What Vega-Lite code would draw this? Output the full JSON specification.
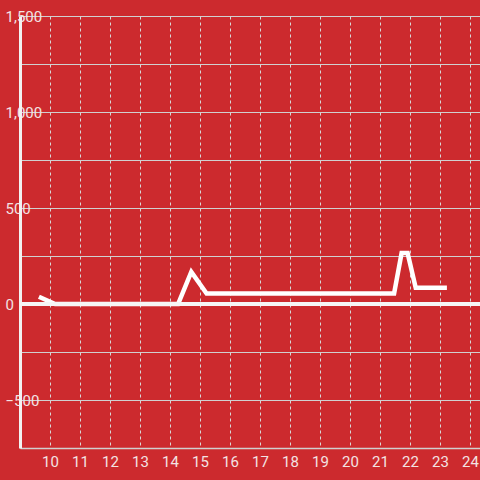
{
  "$schema": "https://vega.github.io/schema/vega-lite/v6.json",
  "width": 460,
  "height": 432,
  "autosize": {"type": "none"},
  "padding": {"left": 20, "top": 16, "right": 0, "bottom": 32},
  "background": "#cc2a2e",
  "config": {"view": {"stroke": null}, "font": "Roboto"},
  "layer": [
    {
      "data": {"values": [
        {"x": 9.63, "y": 38},
        {"x": 10.17, "y": 0},
        {"x": 14.27, "y": 0},
        {"x": 14.71, "y": 167},
        {"x": 15.22, "y": 55},
        {"x": 21.47, "y": 55},
        {"x": 21.72, "y": 265},
        {"x": 21.92, "y": 265},
        {"x": 22.19, "y": 85},
        {"x": 23.23, "y": 85}
      ]},
      "mark": {"type": "line", "color": "#ffffff", "strokeWidth": 4.5, "strokeJoin": "miter"},
      "encoding": {
        "x": {
          "field": "x", "type": "quantitative",
          "scale": {"domain": [9, 24.333], "nice": false, "zero": false},
          "axis": {
            "title": null,
            "values": [10, 11, 12, 13, 14, 15, 16, 17, 18, 19, 20, 21, 22, 23, 24],
            "grid": true, "gridColor": "#d8d8d8", "gridDash": [3, 3], "gridWidth": 1, "gridOpacity": 1,
            "ticks": false, "tickSize": 0,
            "domain": true, "domainColor": "#d0d0d0", "domainWidth": 1.5,
            "labelColor": "#f3e3e3", "labelFontSize": 15, "labelPadding": 6,
            "labelFlush": false, "labelOverlap": false, "labelBound": false
          }
        },
        "y": {
          "field": "y", "type": "quantitative",
          "scale": {"domain": [-750, 1500], "nice": false, "zero": false},
          "axis": {
            "title": null,
            "values": [-750, -500, -250, 0, 250, 500, 750, 1000, 1250, 1500],
            "labelExpr": "datum.value % 500 == 0 ? datum.label : ''",
            "grid": true, "gridColor": "#d0d0d0", "gridWidth": 1, "gridOpacity": 1,
            "ticks": false, "tickSize": 0,
            "domain": true, "domainColor": "#f2f2f2", "domainWidth": 3,
            "labelColor": "#f3e3e3", "labelFontSize": 15, "labelAlign": "left", "labelPadding": 15,
            "labelFlush": false, "labelOverlap": false, "labelBound": false
          }
        }
      }
    },
    {
      "data": {"values": [{"zero": 0}]},
      "mark": {"type": "rule", "color": "#f6f6f6", "strokeWidth": 4},
      "encoding": {"y": {"field": "zero", "type": "quantitative"}}
    }
  ]
}
